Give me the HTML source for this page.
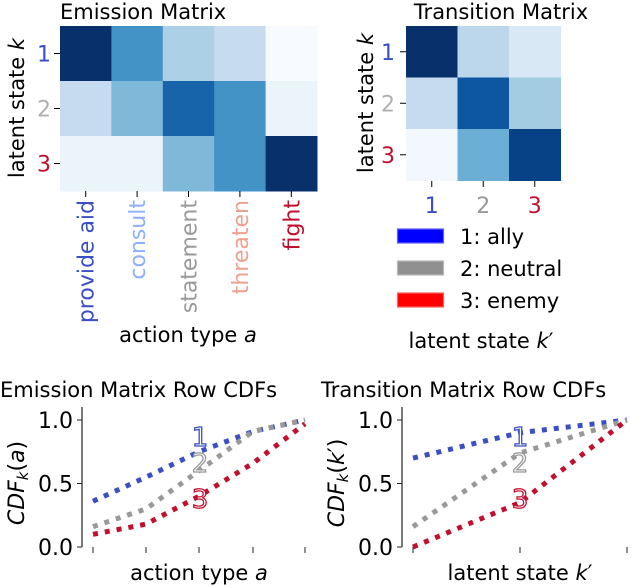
<!DOCTYPE html>
<html><head><meta charset="utf-8"><style>
html,body{margin:0;padding:0;background:#fff;}
svg{display:block;font-family:"DejaVu Sans","Liberation Sans",sans-serif;}
</style></head><body>
<svg id="fig" width="638" height="586" viewBox="0 0 638 586"></svg>
<script>
const emissionValues = [[1,0.62,0.33,0.25,0],[0.25,0.45,0.8,0.62,0.06],[0.06,0.06,0.45,0.62,1]];
const transitionValues = [[1,0.28,0.15],[0.25,0.85,0.36],[0.02,0.5,0.93]];
const actionCategories = ["provide aid","consult","statement","threaten","fight"];
const stateLabels = ["1","2","3"];
const legendLabels = ["1: ally","2: neutral","3: enemy"];
const emissionCdfBlue = [0.36,0.55,0.75,0.91,1.0];
const emissionCdfGray = [0.16,0.30,0.60,0.91,1.0];
const emissionCdfRed = [0.10,0.18,0.40,0.66,0.97];
const transitionCdfBlue = [0.70,0.90,1.0];
const transitionCdfGray = [0.16,0.74,1.0];
const transitionCdfRed = [0.0,0.35,1.0];
const yTickValues = [0,0.5,1.0];
const yTickLabels = ["0.0","0.5","1.0"];

const NS="http://www.w3.org/2000/svg";
const svg=document.getElementById('fig');
function mk(tag,attrs,parent){const e=document.createElementNS(NS,tag);for(const k in attrs)e.setAttribute(k,attrs[k]);(parent||svg).appendChild(e);return e;}
function txt(s,attrs,parent){const e=mk('text',attrs,parent);e.textContent=s;return e;}
const stops=["#f7fbff","#deebf7","#c6dbef","#9ecae1","#6baed6","#4292c6","#2171b5","#08519c","#08306b"];
function hex(h){return [1,3,5].map(i=>parseInt(h.substr(i,2),16));}
function blues(v){v=Math.max(0,Math.min(1,v));const p=v*8;const i=Math.min(7,Math.floor(p));const f=p-i;const a=hex(stops[i]),b=hex(stops[i+1]);return 'rgb('+a.map((c,j)=>Math.round(c+(b[j]-c)*f)).join(',')+')';}
const stateColors=["#3a4fc4","#b0b0b0","#c0102e"];
const tickStateColors=["#3a4fc4","#999999","#c0102e"];
const catColors=["#3a4fc4","#8fb0ff","#999999","#f0a090","#c0102e"];
const FS=21;

// Emission heatmap
const ex0=60,ey0=26,ecw=51.4,ech=55;
const eg=mk('g',{});

emissionValues.forEach((row,r)=>row.forEach((v,c)=>{const rc=mk('rect',{x:ex0+c*ecw,y:ey0+r*ech,width:ecw+0.5,height:ech+0.5,fill:blues(v)},eg);
}));
txt("Emission Matrix",{x:60,y:19,'font-size':FS});
stateLabels.forEach((s,i)=>{const y=ey0+(i+0.5)*ech;mk('line',{x1:54,x2:60,y1:y,y2:y,stroke:'#000','stroke-width':1});
const t=txt(s,{x:44,y:y+8,'font-size':22,fill:stateColors[i],'text-anchor':'middle'});});
actionCategories.forEach((s,i)=>{const x=ex0+(i+0.5)*ecw;mk('line',{x1:x,x2:x,y1:191,y2:197,stroke:'#000','stroke-width':1});
const t=txt(s,{x:0,y:0,'font-size':22,fill:catColors[i],'text-anchor':'end',transform:`translate(${x+8},200) rotate(-90)`});});
const eyl=txt("",{x:0,y:0,'font-size':FS,'text-anchor':'middle',transform:'translate(24,108) rotate(-90)'});eyl.innerHTML='latent state <tspan font-style="italic">k</tspan>';

const ea=txt("",{x:188,y:342,'font-size':FS,'text-anchor':'middle'});ea.innerHTML='action type <tspan font-style="italic">a</tspan>';

// Transition heatmap
const tx0=406,ty0=26,tc=51.5;
transitionValues.forEach((row,r)=>row.forEach((v,c)=>{const rc=mk('rect',{x:tx0+c*tc,y:ty0+r*tc,width:tc+0.5,height:tc+0.5,fill:blues(v)});
}));
txt("Transition Matrix",{x:501,y:19,'font-size':FS,'text-anchor':'middle'});
stateLabels.forEach((s,i)=>{const y=ty0+(i+0.5)*tc;mk('line',{x1:400,x2:406,y1:y,y2:y,stroke:'#000'});
txt(s,{x:388,y:y+8,'font-size':22,fill:stateColors[i],'text-anchor':'middle'});
const x=tx0+(i+0.5)*tc;mk('line',{x1:x,x2:x,y1:181,y2:187,stroke:'#000'});
txt(s,{x:x,y:213,'font-size':22,fill:tickStateColors[i],'text-anchor':'middle'});});
const tyl=txt("",{x:0,y:0,'font-size':FS,'text-anchor':'middle',transform:'translate(373,103) rotate(-90)'});tyl.innerHTML='latent state <tspan font-style="italic">k</tspan>';
const txl=txt("",{x:481,y:348,'font-size':FS,'text-anchor':'middle'});txl.innerHTML='latent state <tspan font-style="italic">k</tspan>′';
// legend
const legFill=["#0000ff","#909090","#ff0000"],legStroke=["#6060ff","#b8b8b8","#ff6060"];
legendLabels.forEach((s,i)=>{const y=229+i*32;const r=mk('rect',{x:397.5,y:y,width:46,height:14,fill:legFill[i],stroke:legStroke[i],'stroke-width':1.2});

const t=txt(s,{x:460,y:y+15,'font-size':FS});});

// CDF plots
function cdfPlot(x0,ticksX,series,title,titleX,ylab,xlab,xlabX,labelX,name){
  const yS=v=>547-v*127;
  const g=mk('g',{});
  txt(title,{x:titleX,y:397,'font-size':FS},g);
  mk('line',{x1:x0,x2:x0,y1:407,y2:547,stroke:'#222','stroke-width':1.2},g);
  yTickValues.forEach((v,i)=>{mk('line',{x1:x0-5,x2:x0,y1:yS(v),y2:yS(v),stroke:'#222'},g);
   txt(yTickLabels[i],{x:x0-9,y:yS(v)+8,'font-size':22,'text-anchor':'end'},g);});
  ticksX.forEach(x=>mk('line',{x1:x,x2:x,y1:547,y2:553,stroke:'#222'},g));
  series.forEach((vals,si)=>{const pts=vals.map((v,i)=>ticksX[i]+','+yS(v)).join(' ');
   const p=mk('polyline',{points:pts,fill:'none',stroke:stateColors[si]==="#b0b0b0"?"#999999":stateColors[si],'stroke-width':5,'stroke-dasharray':'5,7'},g);
   });
  const lY=[446,472,508];
  ["1","2","3"].forEach((s,i)=>txt(s,{x:labelX,y:lY[i],'font-size':26,fill:'#fff',stroke:stateColors[i]==="#b0b0b0"?"#999":stateColors[i],'stroke-width':1.3,'text-anchor':'middle'},g));
  const yl=txt("",{x:0,y:0,'font-size':22,'text-anchor':'middle',transform:`translate(${x0-58},483) rotate(-90)`},g);yl.innerHTML=ylab;
  const xl=txt("",{x:xlabX,y:580,'font-size':FS,'text-anchor':'middle'},g);xl.innerHTML=xlab;
}
cdfPlot(82,[93,146,199,253,305],[emissionCdfBlue,emissionCdfGray,emissionCdfRed],"Emission Matrix Row CDFs",0,
 '<tspan font-style="italic">CDF</tspan><tspan font-style="italic" font-size="15" dy="4">k</tspan><tspan dy="-4">(</tspan><tspan font-style="italic">a</tspan>)',
 'action type <tspan font-style="italic">a</tspan>',199,200,'emission-cdf-plot');
cdfPlot(402,[413,520,627],[transitionCdfBlue,transitionCdfGray,transitionCdfRed],"Transition Matrix Row CDFs",321,
 '<tspan font-style="italic">CDF</tspan><tspan font-style="italic" font-size="15" dy="4">k</tspan><tspan dy="-4">(</tspan><tspan font-style="italic">k</tspan>′)',
 'latent state <tspan font-style="italic">k</tspan>′',520,520,'transition-cdf-plot');
</script>
</body></html>
